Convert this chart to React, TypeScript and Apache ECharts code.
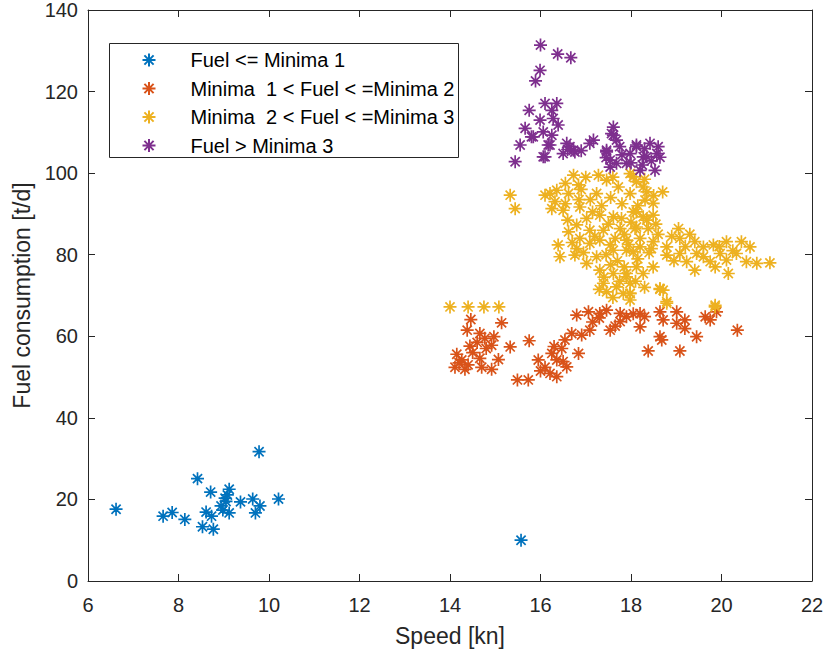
import React, { useEffect, useRef } from "react";
import * as echarts from "echarts";

const xTicks = { min: 6, max: 22, interval: 2 };
const yTicks = { min: 0, max: 140, interval: 20 };

const seriesNames = [
  "Fuel <= Minima 1",
  "Minima  1 < Fuel < =Minima 2",
  "Minima  2 < Fuel < =Minima 3",
  "Fuel > Minima 3",
];
const seriesColors = ["#0072BD", "#D95319", "#EDB120", "#7E2F8E"];

const bluePts: number[][] = [
  [6.62, 17.6], [7.66, 15.9], [7.86, 16.8], [8.14, 15.1], [8.42, 25.1], [8.71, 21.8],
  [8.61, 16.9], [8.73, 15.9], [8.53, 13.3], [8.77, 12.7], [8.94, 18.4], [9.03, 20.3],
  [9.12, 22.5], [9.08, 21.1], [8.98, 17.4], [9.12, 16.7], [9.05, 19.5], [9.37, 19.4],
  [9.64, 20.1], [9.8, 18.4], [9.7, 16.7], [10.21, 20.1], [9.78, 31.7], [15.57, 10.0],
];

const orangePts: number[][] = [
  [14.46, 64.1], [15.14, 63.3], [14.38, 61.5], [14.66, 60.7], [14.77, 59.5], [14.97, 59.9],
  [14.44, 57.6], [14.92, 57.8], [15.33, 57.4], [15.75, 58.9], [14.15, 55.6], [14.26, 54.2],
  [14.66, 54.6], [15.07, 54.3], [14.11, 52.4], [14.33, 51.9], [14.7, 52.4], [14.92, 51.9],
  [15.49, 49.3], [15.73, 49.3], [15.95, 54.2], [16.1, 52.4], [16.25, 55.8], [16.36, 54.2],
  [16.47, 57.0], [16.54, 59.1], [16.21, 50.9], [16.36, 50.1], [16.58, 52.5], [16.84, 55.8],
  [16.69, 60.7], [16.91, 60.3], [17.09, 61.5], [16.8, 65.2], [17.06, 66.0], [17.31, 65.6],
  [17.54, 61.5], [17.46, 66.4], [17.76, 65.6], [17.9, 64.8], [17.76, 63.6], [18.2, 65.6],
  [18.2, 62.3], [18.64, 66.0], [18.71, 64.0], [19.01, 66.0], [19.01, 63.2], [19.19, 64.0],
  [19.19, 61.9], [18.64, 59.9], [18.68, 59.1], [18.38, 56.4], [19.08, 56.4], [19.45, 59.9],
  [19.64, 64.8], [19.75, 64.0], [19.89, 66.0], [20.35, 61.5], [14.2, 53.5], [14.5, 56.0],
  [14.6, 58.5], [14.8, 57.0], [14.4, 53.0], [16.0, 51.5], [16.5, 53.8], [16.3, 57.5],
  [17.3, 64.5], [17.65, 62.5], [18.05, 65.5], [18.3, 64.8], [17.15, 63.5],
];

const yellowPts: number[][] = [
  [14.0, 67.2], [14.4, 67.2], [14.75, 67.2], [15.08, 67.2], [19.86, 67.2], [18.79, 68.1],
  [18.64, 71.5], [17.98, 70.5], [15.33, 94.6], [15.44, 91.3], [16.1, 94.6], [16.36, 95.8],
  [16.73, 99.5], [16.84, 97.1], [16.62, 95.0], [16.25, 91.3], [16.5, 90.9], [16.87, 91.7],
  [17.28, 99.5], [17.46, 98.3], [17.24, 95.0], [17.72, 96.6], [18.05, 99.1], [17.98, 95.0],
  [18.27, 96.6], [17.02, 88.9], [17.31, 89.7], [17.61, 89.3], [17.79, 88.9], [18.12, 90.5],
  [16.8, 87.3], [17.09, 86.0], [16.62, 85.6], [17.39, 86.0], [17.76, 86.4], [18.12, 86.8],
  [18.35, 88.5], [16.87, 84.0], [17.09, 82.8], [17.31, 83.6], [17.54, 82.4], [17.9, 83.6],
  [18.2, 84.0], [16.39, 82.4], [16.8, 81.5], [16.43, 79.5], [16.76, 79.9], [17.24, 79.5],
  [17.61, 81.1], [18.05, 80.7], [17.02, 77.9], [17.31, 76.2], [17.61, 75.4], [17.9, 75.4],
  [18.12, 77.0], [17.39, 73.0], [17.68, 72.1], [17.98, 73.0], [17.46, 70.9], [17.83, 70.5],
  [17.98, 68.9], [16.21, 95.0], [16.32, 93.0], [17.98, 99.9], [18.12, 97.9], [18.35, 95.4],
  [18.7, 95.4], [18.31, 93.4], [18.49, 92.6], [18.05, 90.5], [18.27, 89.3], [18.49, 89.7],
  [19.05, 86.4], [18.09, 86.4], [18.38, 86.4], [19.08, 84.0], [19.41, 83.2], [19.6, 81.9],
  [19.82, 82.4], [20.11, 83.2], [20.44, 83.2], [20.63, 81.9], [18.79, 81.9], [18.79, 79.9],
  [19.08, 80.3], [19.45, 80.3], [19.97, 80.3], [20.33, 80.3], [20.55, 78.3], [20.78, 77.9],
  [21.07, 78.0], [19.23, 78.3], [19.75, 78.3], [20.11, 78.7], [19.41, 76.2], [19.86, 77.0],
  [20.15, 75.4], [18.49, 77.0], [18.27, 75.4], [18.64, 71.7], [18.71, 71.3], [17.9, 74.6],
  [17.98, 70.5], [18.79, 68.5], [19.86, 67.6], [17.9, 81.1], [18.2, 81.9], [18.49, 83.2],
  [16.55, 97.5], [16.9, 96.0], [17.1, 93.5], [17.35, 92.0], [17.55, 94.0], [17.8, 92.5],
  [17.15, 90.5], [17.5, 87.5], [17.85, 85.0], [18.0, 88.0], [17.65, 84.0], [17.45, 80.0],
  [17.2, 84.5], [16.95, 80.5], [17.7, 78.5], [17.85, 77.0], [18.15, 79.0], [18.4, 80.5],
  [18.6, 85.0], [18.55, 87.5], [18.45, 81.5], [17.55, 77.5], [17.4, 74.5], [17.75, 73.5],
  [18.1, 73.5], [18.3, 72.0], [16.6, 88.5], [16.7, 83.0], [16.55, 92.5], [17.0, 99.0],
  [17.6, 99.0], [18.3, 98.5], [18.5, 94.5], [18.15, 92.0], [18.9, 84.5], [19.2, 82.0],
  [19.3, 85.0], [19.6, 79.5], [19.95, 82.0], [20.25, 81.0], [18.95, 78.5], [17.3, 71.5],
  [17.6, 69.5], [16.85, 93.5], [17.95, 82.5],
];

const purplePts: number[][] = [
  [16.0, 131.4], [16.38, 129.2], [16.67, 128.3], [15.99, 125.2], [15.89, 122.6], [15.75, 115.4],
  [16.1, 117.1], [16.36, 117.1], [16.25, 115.4], [15.99, 113.0], [15.66, 111.0], [16.28, 113.4],
  [16.39, 111.8], [15.8, 108.9], [16.06, 110.1], [16.25, 109.3], [15.55, 106.9], [16.17, 106.9],
  [16.1, 104.0], [15.44, 102.8], [16.65, 106.5], [16.76, 105.2], [17.09, 107.3], [17.17, 108.1],
  [17.46, 105.6], [17.61, 111.3], [17.57, 109.7], [17.68, 108.1], [17.54, 103.2], [17.68, 102.4],
  [17.98, 104.8], [18.12, 106.9], [18.42, 107.3], [18.57, 104.8], [18.27, 104.0], [17.9, 102.4],
  [16.58, 107.3], [16.5, 104.8], [16.06, 104.0], [15.84, 108.9], [16.21, 106.9], [16.73, 105.6],
  [17.61, 109.3], [17.46, 105.2], [17.54, 101.5], [18.12, 106.5], [18.35, 104.0], [18.2, 100.7],
  [18.53, 100.7], [18.64, 103.9], [17.8, 104.5], [18.0, 102.5], [18.25, 102.0], [18.45, 103.0],
  [18.3, 106.0], [17.75, 106.5], [16.9, 105.5], [16.6, 105.8], [17.45, 103.8], [18.6, 106.5],
];

const seriesData = [bluePts, orangePts, yellowPts, purplePts];

const asterisk = "path://M0,-10L0,10M-10,0L10,0M-7.07,-7.07L7.07,7.07M-7.07,7.07L7.07,-7.07";
const FONT = "'Liberation Sans', Arial, Helvetica, sans-serif";
const AX = "#262626";

export default function App() {
  const ref = useRef<HTMLDivElement>(null);
  useEffect(() => {
    if (!ref.current) return;
    const chart = echarts.init(ref.current, undefined, { renderer: "svg" });
    const baseAxis = {
      axisLine: { show: true, onZero: false, lineStyle: { color: AX, width: 1 } },
      axisTick: { show: true, inside: true, length: 7, lineStyle: { color: AX } },
      splitLine: { show: false },
    };
    chart.setOption({
      animation: false,
      backgroundColor: "#ffffff",
      textStyle: { fontFamily: FONT },
      grid: { left: 88, right: 15, top: 10, bottom: 76, show: false },
      xAxis: [
        {
          type: "value", ...xTicks, position: "bottom", ...baseAxis,
          axisLabel: { color: AX, fontSize: 20, margin: 14, fontFamily: FONT },
          name: "Speed [kn]", nameLocation: "middle", nameGap: 43,
          nameTextStyle: { color: AX, fontSize: 23, fontFamily: FONT },
        },
        {
          type: "value", ...xTicks, position: "top", ...baseAxis,
          axisLabel: { show: false },
        },
      ],
      yAxis: [
        {
          type: "value", ...yTicks, position: "left", ...baseAxis,
          axisLabel: { color: AX, fontSize: 20, margin: 10, fontFamily: FONT },
          name: "Fuel consumption [t/d]", nameLocation: "middle", nameGap: 55,
          nameTextStyle: { color: AX, fontSize: 23, fontFamily: FONT },
        },
        {
          type: "value", ...yTicks, position: "right", ...baseAxis,
          axisLabel: { show: false },
        },
      ],
      legend: {
        orient: "vertical",
        left: 140,
        top: 50,
        padding: 0,
        itemGap: 8.5,
        itemWidth: 13,
        itemHeight: 13,
        z: 10,
        textStyle: { color: "#000", fontSize: 20, lineHeight: 20, fontFamily: FONT, padding: [0, 0, 0, 30] },
        data: seriesNames.map((n) => ({ name: n, icon: asterisk })),
      },
      graphic: [
        {
          type: "rect",
          z: 9,
          shape: { x: 109.5, y: 43.5, width: 349, height: 114 },
          style: { fill: "#ffffff", stroke: AX, lineWidth: 1 },
        },
      ],
      series: seriesData.map((d, i) => ({
        type: "scatter",
        name: seriesNames[i],
        data: d,
        symbol: asterisk,
        symbolSize: 13,
        itemStyle: { color: "none", borderColor: seriesColors[i], borderWidth: 1.7, opacity: 1 },
        emphasis: { disabled: true },
      })),
    });
    return () => chart.dispose();
  }, []);
  return (
    <div
      ref={ref}
      style={{ position: "fixed", left: 0, top: 0, width: 827, height: 657 }}
    />
  );
}
